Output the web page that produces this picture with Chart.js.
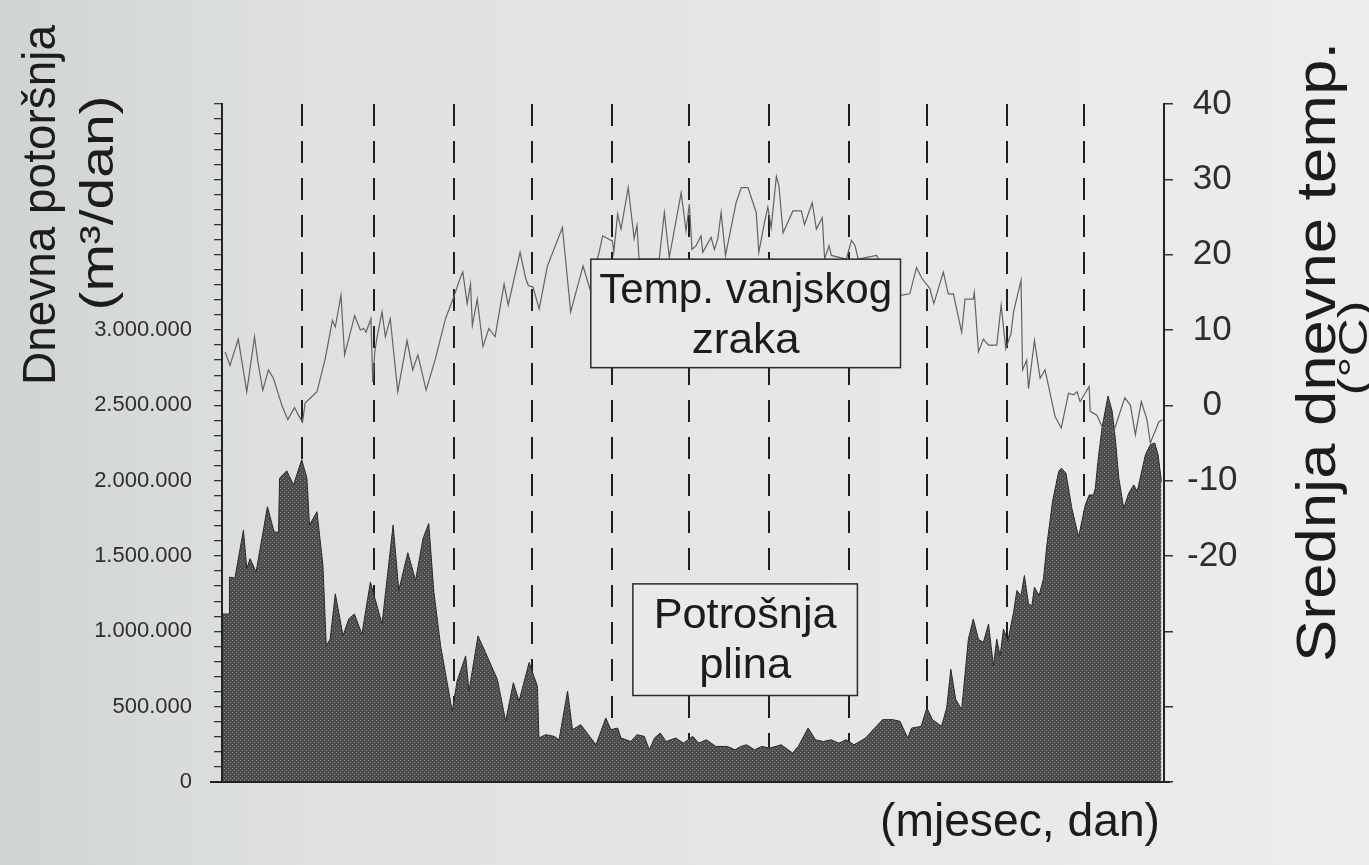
<!DOCTYPE html>
<html>
<head>
<meta charset="utf-8">
<script src="https://cdn.jsdelivr.net/npm/chart.js@4"></script>
<style>
  html, body { margin: 0; padding: 0; background: #e4e6e6; }
  canvas { display: block; }
</style>
</head>
<body>
<canvas id="chart" width="1369" height="865"></canvas>
<script>
// day of year and mean daily temperature, degC
const tempDays = [
  1.2, 3.1, 6.3, 9.6, 12.6, 13.9, 15.8, 18.0, 19.9, 23.2, 25.5, 28.1, 29.6, 31.2, 32.2, 36.8,
  40.0, 42.8, 43.9, 46.1, 47.5, 51.4, 53.6, 54.9, 55.8, 57.7, 58.4, 59.2, 60.1, 62.0, 63.3, 65.2,
  68.1, 71.7, 73.9, 75.9, 79.1, 82.7, 86.6, 89.8, 92.4, 93.3, 95.0, 96.3, 97.0, 98.9, 101.1, 103.4,
  105.8, 109.3, 110.9, 115.5, 117.7, 118.7, 120.5, 122.9, 126.1, 131.9, 135.1, 139.9, 142.5, 146.1,
  147.5, 151.3, 151.8, 153.3, 154.6, 157.4, 159.7, 160.8, 161.6, 169.4, 171.4, 173.3, 177.9, 179.8,
  181.1, 182.1, 183.7, 185.6, 186.3, 189.5, 190.8, 192.1, 193.4, 195.1, 199.2, 201.2, 203.8, 207.0,
  208.0, 210.2, 211.5, 212.8, 214.8, 215.8, 217.4, 221.2, 224.5, 225.7, 228.7, 230.3, 232.6, 233.5,
  235.2, 236.1, 241.9, 243.9, 245.3, 246.5, 253.6, 263.0, 266.5, 269.1, 271.1, 274.3, 275.8, 279.5,
  281.4, 283.4, 286.6, 287.9, 291.1, 291.5, 293.1, 295.0, 297.0, 300.2, 301.9, 303.7, 305.7, 306.7,
  309.6, 310.2, 311.8, 312.5, 314.8, 317.0, 318.9, 322.8, 325.2, 328.0, 330.0, 331.3, 332.5, 336.0,
  336.4, 339.0, 341.0, 345.5, 349.8, 352.0, 353.9, 356.2, 358.4, 359.7, 363.0, 364.3
];
const tempValues = [
  7.1, 5.3, 8.8, 1.8, 9.1, 5.8, 2.0, 4.7, 3.6, 0.0, -1.9, -0.3, -1.3, -2.2, 0.3, 1.8,
  6.2, 11.3, 10.4, 14.6, 6.7, 11.9, 10.0, 10.2, 9.7, 11.5, 3.1, 7.1, 9.1, 12.4, 9.1, 11.5,
  1.8, 8.6, 4.7, 6.7, 2.0, 6.2, 11.5, 14.4, 17.0, 17.7, 13.5, 16.1, 10.6, 14.1, 7.8, 10.2,
  9.1, 16.1, 13.3, 20.3, 16.8, 15.9, 15.7, 12.8, 18.5, 23.6, 12.4, 18.5, 15.5, 20.3,
  22.5, 21.8, 20.3, 25.4, 23.4, 28.9, 22.1, 23.9, 19.4, 19.4, 25.6, 19.6, 28.2, 23.2,
  26.7, 20.7, 21.2, 22.5, 20.3, 22.3, 20.7, 22.1, 25.6, 19.9, 26.9, 28.9, 28.9, 25.6,
  20.3, 24.3, 26.3, 23.6, 30.4, 29.1, 22.9, 25.8, 25.8, 24.0, 26.9, 23.4, 24.9, 19.4,
  21.2, 19.9, 19.4, 21.9, 21.2, 19.4, 19.9, 14.6, 14.8, 18.3, 16.9, 15.5, 13.5, 17.7,
  14.8, 14.8, 9.7, 14.1, 14.1, 15.0, 7.1, 8.8, 8.0, 8.0, 13.3, 7.5, 9.5, 12.4,
  16.6, 4.7, 6.0, 2.2, 8.6, 3.6, 4.7, -1.5, -3.0, 1.6, 1.4, 1.8, 0.5, 2.5,
  -0.8, -1.3, -2.8, -3.5, 1.0, 0.0, -3.9, 0.5, -1.9, -5.0, -2.2, -1.9
];

// day of year and daily gas consumption, m3/day
const gasDays = [
  0.3, 2.8, 2.9, 5.0, 8.3, 9.6, 10.9, 13.2, 17.6, 20.2, 21.9, 22.3, 25.1, 27.7, 30.9, 32.9,
  33.9, 36.8, 39.1, 40.4, 41.9, 43.9, 46.9, 49.1, 51.3, 54.2, 57.5, 62.0, 66.3, 68.5, 72.0, 75.0,
  77.9, 80.1, 82.1, 84.7, 89.2, 91.1, 94.4, 95.7, 99.2, 102.1, 106.7, 109.9, 112.9, 115.1, 119.0, 122.2,
  122.8, 125.4, 128.7, 130.6, 133.9, 135.8, 139.0, 144.9, 148.7, 150.7, 153.3, 154.6, 158.4, 160.8,
  163.6, 165.6, 167.6, 169.8, 172.1, 175.8, 178.8, 182.4, 184.7, 187.7, 191.4, 195.8, 198.8, 201.0,
  203.3, 206.3, 209.2, 212.2, 216.7, 221.1, 223.3, 227.1, 230.0, 233.0, 236.0, 239.0, 241.9, 244.9,
  249.4, 252.3, 256.0, 259.8, 262.7, 265.7, 267.2, 270.9, 273.1, 275.3, 278.8, 280.8, 282.4, 284.3,
  286.6, 289.2, 291.1, 293.1, 295.0, 297.0, 298.9, 300.2, 301.5, 302.8, 304.5, 306.7, 308.0, 309.6,
  310.9, 312.5, 313.8, 314.8, 316.6, 318.3, 319.6, 321.8, 324.2, 325.2, 327.0, 329.3, 331.9, 334.5,
  336.0, 337.7, 338.4, 339.4, 341.0, 343.3, 344.9, 346.1, 347.5, 349.4, 351.3, 353.3, 354.6, 355.2,
  357.8, 359.7, 361.4, 362.7, 364.0
];
const gasValues = [
  1115000, 1115000, 1360000, 1353000, 1671000, 1416000, 1482000, 1393000, 1827000, 1660000, 1656000, 2016000, 2065000, 1972000, 2139000, 2016000,
  1705000, 1794000, 1438000, 904000, 948000, 1249000, 970000, 1082000, 1115000, 981000, 1327000, 1048000, 1705000, 1271000, 1522000, 1338000,
  1616000, 1716000, 1260000, 904000, 469000, 670000, 837000, 603000, 970000, 859000, 681000, 403000, 659000, 536000, 793000, 636000,
  292000, 314000, 303000, 280000, 603000, 347000, 381000, 247000, 425000, 347000, 358000, 292000, 269000, 314000,
  303000, 214000, 292000, 325000, 269000, 292000, 258000, 303000, 258000, 280000, 236000, 236000, 214000, 236000,
  247000, 214000, 236000, 225000, 247000, 192000, 236000, 358000, 280000, 269000, 280000, 258000, 280000, 247000,
  292000, 347000, 414000, 414000, 403000, 292000, 358000, 369000, 492000, 414000, 369000, 492000, 748000, 548000,
  481000, 948000, 1082000, 948000, 926000, 1048000, 770000, 948000, 837000, 1015000, 937000, 1126000, 1271000, 1237000,
  1371000, 1182000, 1170000, 1293000, 1237000, 1349000, 1571000, 1861000, 2061000, 2083000, 2050000, 1816000, 1627000, 1838000,
  1905000, 1905000, 1950000, 2128000, 2350000, 2562000, 2462000, 2284000, 2016000, 1816000, 1916000, 1972000, 1928000, 1972000,
  2172000, 2239000, 2250000, 2172000, 1994000
];

// last day of each month (dashed separators)
const monthEnds = [31, 59, 90, 120, 151, 181, 212, 243, 273, 304, 334];
const gasTickLabels = [0, 500000, 1000000, 1500000, 2000000, 2500000, 3000000];
const tempTickLabels = [-20, -10, 0, 10, 20, 30, 40];

const FONT = '"Liberation Sans", Arial, Helvetica, sans-serif';
Chart.defaults.font.family = FONT;

const fmtThousands = (v) => String(Math.round(v)).replace(/\B(?=(\d{3})+(?!\d))/g, '.');
const isGasLabel = (v) => gasTickLabels.some((t) => Math.abs(t - v) < 1);

// halftone-ish fill like the printed original
const patCanvas = document.createElement('canvas');
patCanvas.width = 4;
patCanvas.height = 4;
const pctx = patCanvas.getContext('2d');
pctx.fillStyle = '#4d4d4d';
pctx.fillRect(0, 0, 4, 4);
pctx.fillStyle = '#828282';
pctx.fillRect(0, 0, 1, 1);
pctx.fillRect(2, 2, 1, 1);
const gasPattern = pctx.createPattern(patCanvas, 'repeat');

// text squeezed/stretched to a given length along its direction
function drawFitted(ctx, text, x, y, size, len, rot) {
  ctx.save();
  ctx.font = `${size}px ${FONT}`;
  const w = ctx.measureText(text).width;
  ctx.translate(x, y);
  ctx.rotate(rot);
  ctx.scale(len / w, 1);
  ctx.textAlign = 'center';
  ctx.textBaseline = 'alphabetic';
  ctx.fillStyle = '#1c1c1c';
  ctx.fillText(text, 0, 0);
  ctx.restore();
}

function labelBox(chart, x0, x1, y0, y1, axis, lines, len) {
  const { ctx, scales } = chart;
  const left = scales.x.getPixelForValue(x0);
  const right = scales.x.getPixelForValue(x1);
  const top = scales[axis].getPixelForValue(y0);
  const bottom = scales[axis].getPixelForValue(y1);
  ctx.save();
  ctx.fillStyle = '#e8eaea';
  ctx.fillRect(left, top, right - left, bottom - top);
  ctx.strokeStyle = '#2b2b2b';
  ctx.lineWidth = 1.5;
  ctx.strokeRect(left, top, right - left, bottom - top);
  ctx.restore();
  const cx = (left + right) / 2;
  drawFitted(ctx, lines[0], cx, top + 44, 42, len[0], 0);
  drawFitted(ctx, lines[1], cx, top + 94, 42, len[1], 0);
}

const decorations = {
  id: 'decorations',
  beforeDraw(chart) {
    const { ctx, width, height } = chart;
    const g = ctx.createLinearGradient(0, 0, width, 0);
    g.addColorStop(0, '#d0d3d4');
    g.addColorStop(0.22, '#dfe1e1');
    g.addColorStop(1, '#eceeed');
    ctx.save();
    ctx.fillStyle = g;
    ctx.fillRect(0, 0, width, height);
    ctx.restore();
  },
  afterDatasetsDraw(chart) {
    const { ctx, chartArea } = chart;
    // base line of the plot
    ctx.save();
    ctx.strokeStyle = '#222';
    ctx.lineWidth = 2;
    ctx.beginPath();
    ctx.moveTo(chartArea.left - 12, chartArea.bottom);
    ctx.lineTo(chartArea.right + 6, chartArea.bottom);
    ctx.stroke();
    ctx.restore();

    labelBox(chart, 142.9, 262.9, 19.4, 5.0, 'yT', ['Temp. vanjskog', 'zraka'], [293, 108]);
    labelBox(chart, 159.2, 246.2, 1315000, 574000, 'yG', ['Potrošnja', 'plina'], [183, 92]);
  },
  afterDraw(chart) {
    const { ctx } = chart;
    const up = -Math.PI / 2;
    drawFitted(ctx, 'Dnevna potoršnja', 55, 205, 46, 360, up);
    drawFitted(ctx, '(m³/dan)', 113, 203, 46, 215, up);
    drawFitted(ctx, 'Srednja dnevne temp.', 1335, 352, 55, 620, up);
    drawFitted(ctx, '(°C)', 1367, 348, 40, 95, up);
    drawFitted(ctx, '(mjesec, dan)', 1020, 836, 46, 280, 0);
  }
};

new Chart(document.getElementById('chart'), {
  type: 'line',
  data: {
    datasets: [
      {
        label: 'Temp. vanjskog zraka',
        data: tempDays.map((d, i) => ({ x: d, y: tempValues[i] })),
        yAxisID: 'yT',
        borderColor: '#626262',
        borderWidth: 1.2,
        pointRadius: 0,
        tension: 0,
        fill: false,
      },
      {
        label: 'Potrošnja plina',
        data: gasDays.map((d, i) => ({ x: d, y: gasValues[i] })),
        yAxisID: 'yG',
        borderColor: '#2a2a2a',
        borderWidth: 1,
        backgroundColor: gasPattern,
        pointRadius: 0,
        tension: 0,
        fill: 'origin',
      },
    ],
  },
  options: {
    responsive: false,
    animation: false,
    events: [],
    layout: {
      padding: { top: 104, bottom: 0, left: 0, right: 0 },
    },
    plugins: {
      legend: { display: false },
      tooltip: { enabled: false },
    },
    scales: {
      x: {
        type: 'linear',
        min: 0,
        max: 365,
        afterBuildTicks: (s) => {
          s.ticks = monthEnds.map((v) => ({ value: v }));
        },
        afterFit: (s) => {
          s.height = 83;
        },
        ticks: { display: false },
        grid: {
          drawTicks: false,
          color: '#1e1e1e',
          lineWidth: 2,
        },
        border: { display: false, dash: [22, 15] },
      },
      yG: {
        position: 'left',
        min: 0,
        max: 4500000,
        afterFit: (s) => {
          s.width = 222;
        },
        ticks: {
          stepSize: 100000,
          maxTicksLimit: 100,
          autoSkip: false,
          padding: 22,
          color: '#2e2e2e',
          font: { size: 22 },
          callback: (v) => (isGasLabel(v) ? fmtThousands(v) : ''),
        },
        grid: {
          drawOnChartArea: false,
          tickLength: 8,
          color: '#333',
          lineWidth: 1.3,
        },
        border: { color: '#222', width: 2 },
      },
      yT: {
        position: 'right',
        min: -50,
        max: 40,
        afterFit: (s) => {
          s.width = 205;
        },
        ticks: {
          stepSize: 10,
          autoSkip: false,
          crossAlign: 'center',
          padding: 14,
          color: '#2e2e2e',
          font: { size: 35 },
          callback: (v) => (tempTickLabels.includes(v) ? String(v) : ''),
        },
        grid: {
          drawOnChartArea: false,
          tickLength: 9,
          color: '#333',
          lineWidth: 1.5,
        },
        border: { color: '#222', width: 2 },
      },
    },
  },
  plugins: [decorations],
});
</script>
</body>
</html>
